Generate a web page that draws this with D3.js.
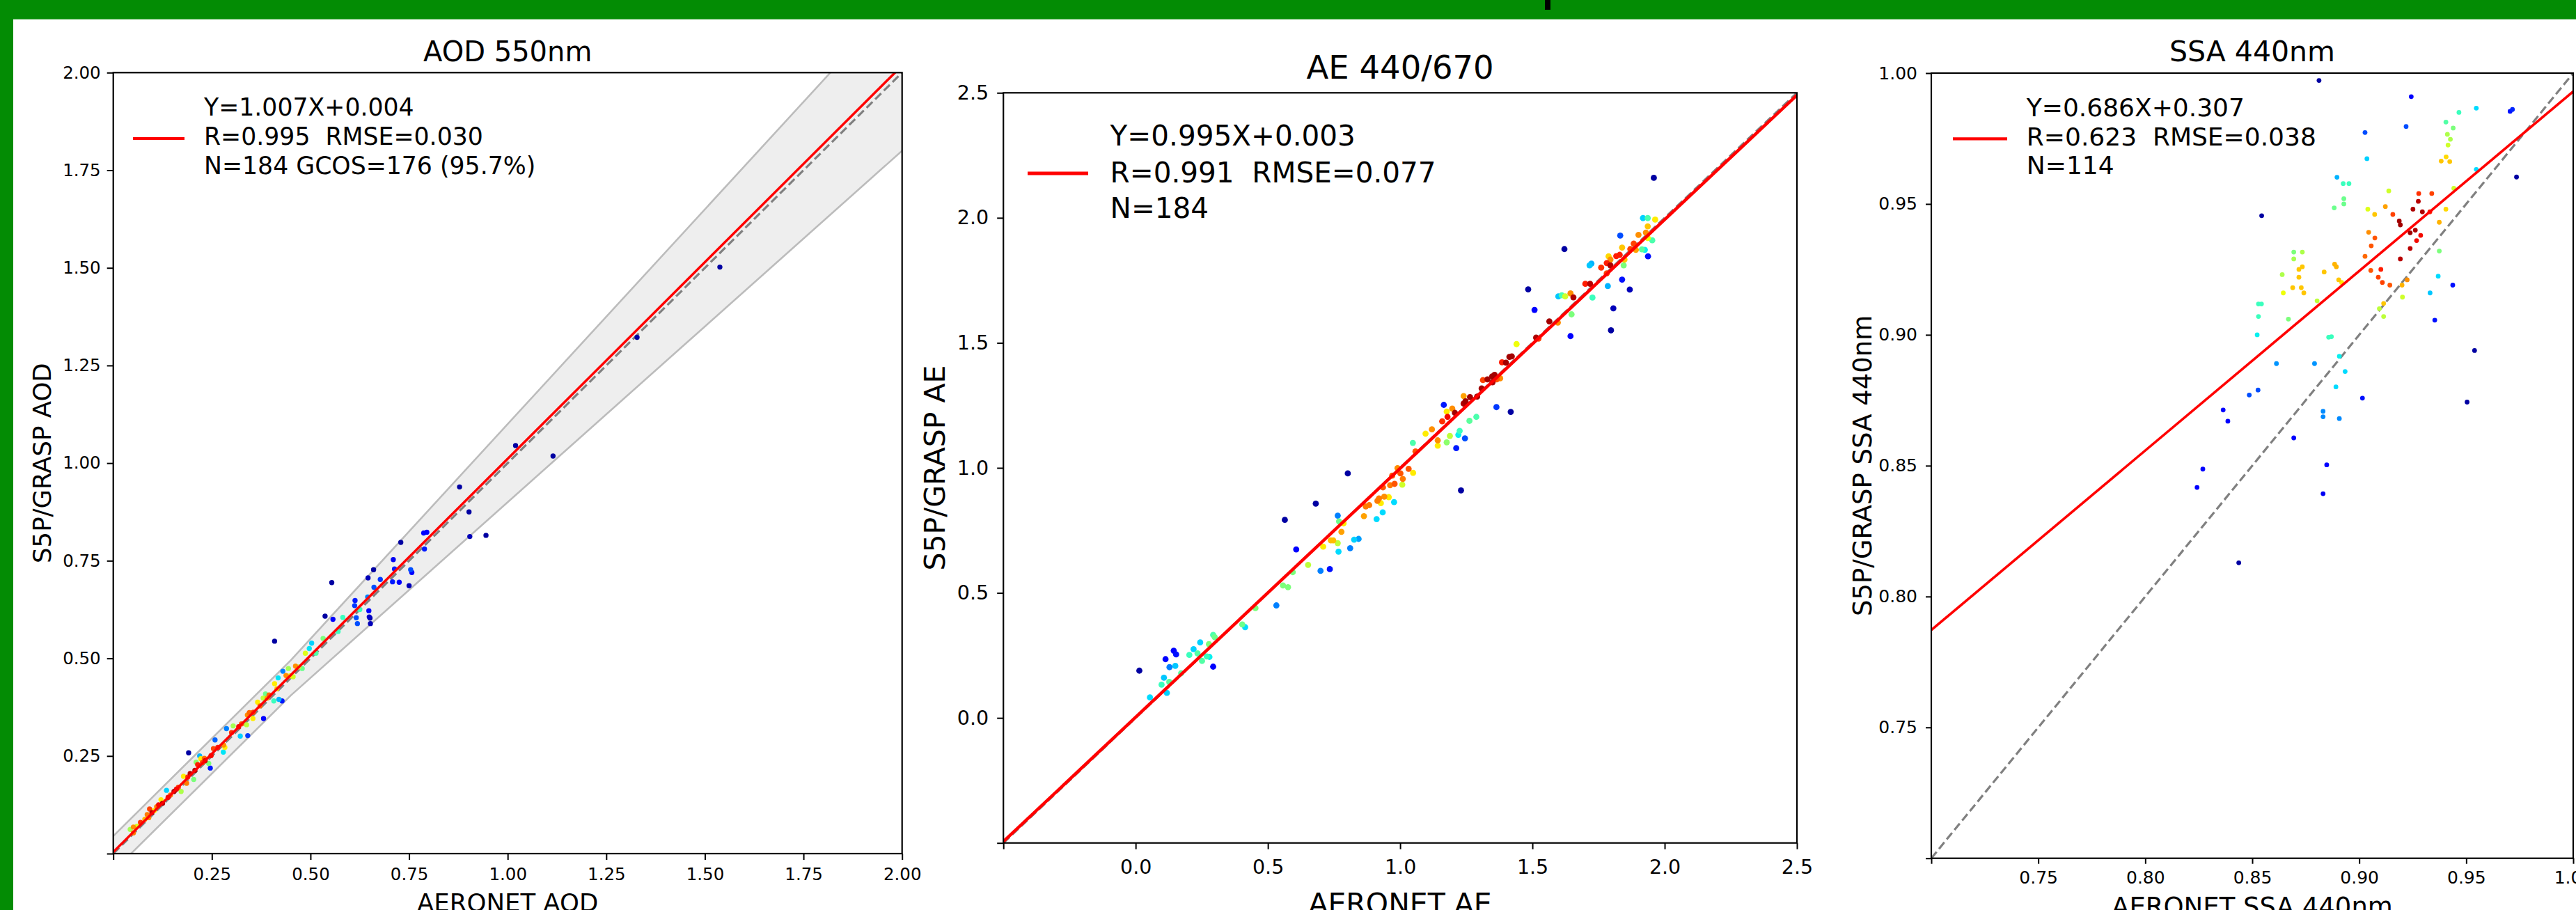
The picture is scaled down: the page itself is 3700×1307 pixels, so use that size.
<!DOCTYPE html>
<html><head><meta charset="utf-8">
<script src="https://cdn.jsdelivr.net/npm/d3@7"></script>
<style>body{margin:0;background:#fff;overflow:hidden}svg{display:block}text{font-family:"DejaVu Sans",sans-serif}</style>
</head><body>
<script>
// ---------------- DATA ----------------
const panelTitles = ["AOD 550nm", "AE 440/670", "SSA 440nm"];
const xLabels = ["AERONET AOD", "AERONET AE", "AERONET SSA 440nm"];
const yLabels = ["S5P/GRASP AOD", "S5P/GRASP AE", "S5P/GRASP SSA 440nm"];
const legendAOD = ["Y=1.007X+0.004", "R=0.995  RMSE=0.030", "N=184 GCOS=176 (95.7%)"];
const legendAE = ["Y=0.995X+0.003", "R=0.991  RMSE=0.077", "N=184"];
const legendSSA = ["Y=0.686X+0.307", "R=0.623  RMSE=0.038", "N=114"];
const fitAOD = [1.007, 0.004];
const fitAE = [0.995, 0.003];
const fitSSA = [0.686, 0.307];
const gcosEnvelope = [0.045, 0.10]; // absolute floor, relative fraction
const ticksAOD = [0, 0.25, 0.5, 0.75, 1.0, 1.25, 1.5, 1.75, 2.0];
const tickLabelsAOD = ["", "0.25", "0.50", "0.75", "1.00", "1.25", "1.50", "1.75", "2.00"];
const ticksAE = [-0.5, 0, 0.5, 1.0, 1.5, 2.0, 2.5];
const tickLabelsAE = ["", "0.0", "0.5", "1.0", "1.5", "2.0", "2.5"];
const ticksSSA = [0.7, 0.75, 0.8, 0.85, 0.9, 0.95, 1.0];
const tickLabelsSSA = ["", "0.75", "0.80", "0.85", "0.90", "0.95", "1.00"];

// points: [AERONET, S5P/GRASP, density (jet colour 0..1)]
const pointsAOD = [
[0.409,0.544,0.03],[0.191,0.258,0.03],[0.537,0.608,0.03],[0.557,0.600,0.12],[0.613,0.648,0.15],
[0.648,0.622,0.12],[0.651,0.603,0.03],[0.616,0.604,0.2],[0.582,0.605,0.42],[0.570,0.569,0.42],
[0.503,0.539,0.33],[0.497,0.525,0.35],[0.532,0.551,0.5],[0.514,0.513,0.45],[0.487,0.513,0.62],
[0.479,0.474,0.48],[0.462,0.480,0.76],[0.444,0.474,0.55],[0.456,0.453,0.6],[0.430,0.467,0.25],
[0.418,0.450,0.35],[0.409,0.435,0.66],[0.438,0.456,0.76],[0.386,0.409,0.48],[0.395,0.406,0.8],
[0.407,0.391,0.42],[0.366,0.388,0.66],[0.380,0.398,0.58],[0.428,0.391,0.15],[0.420,0.395,0.3],
[0.381,0.346,0.12],[0.354,0.346,0.66],[0.345,0.361,0.8],[0.340,0.355,0.76],[0.325,0.332,0.82],
[0.304,0.327,0.55],[0.338,0.330,0.58],[0.322,0.301,0.33],[0.341,0.302,0.18],[0.287,0.320,0.25],
[0.258,0.291,0.22],[0.254,0.269,0.84],[0.280,0.278,0.76],[0.279,0.260,0.35],[0.283,0.272,0.66],
[0.248,0.251,0.9],[0.231,0.244,0.8],[0.219,0.250,0.3],[0.222,0.243,0.66],[0.210,0.234,0.52],
[0.214,0.228,0.88],[0.242,0.231,0.5],[0.246,0.219,0.15],[0.226,0.233,0.84],[0.207,0.213,0.96],
[0.204,0.190,0.5],[0.189,0.196,0.86],[0.186,0.180,0.78],[0.178,0.198,0.66],[0.172,0.159,0.56],
[0.154,0.159,0.96],[0.160,0.165,0.9],[0.135,0.162,0.33],[0.139,0.144,0.9],[0.121,0.138,0.66],
[0.125,0.129,0.96],[0.110,0.120,0.78],[0.104,0.110,0.66],[0.092,0.114,0.84],[0.086,0.100,0.78],
[0.090,0.092,0.76],[0.069,0.080,0.86],[0.051,0.068,0.76],[0.043,0.062,0.55],[0.051,0.053,0.78],
[0.098,0.105,0.95],[0.080,0.088,0.72],[0.060,0.070,0.62],[0.145,0.150,0.8],[0.115,0.125,0.9],
[0.165,0.170,0.84],[0.195,0.205,0.95],[0.233,0.238,0.92],[0.265,0.272,0.88],[0.300,0.310,0.86],
[0.318,0.325,0.9],[0.355,0.362,0.84],[0.372,0.378,0.8],[0.390,0.398,0.74],[0.415,0.422,0.7],
[0.448,0.455,0.66],[0.470,0.478,0.6],
[1.538,1.502,0.03],[1.328,1.322,0.03],[1.020,1.045,0.03],[1.115,1.018,0.03],[0.878,0.939,0.03],
[0.902,0.875,0.03],[0.945,0.815,0.03],[0.904,0.812,0.05],[0.787,0.821,0.12],[0.795,0.823,0.12],
[0.789,0.780,0.15],[0.729,0.797,0.03],[0.710,0.753,0.1],[0.713,0.729,0.15],[0.660,0.727,0.03],
[0.646,0.706,0.05],[0.677,0.702,0.18],[0.661,0.682,0.2],[0.645,0.657,0.25],[0.708,0.696,0.15],
[0.725,0.695,0.12],[0.750,0.686,0.05],[0.754,0.727,0.2],[0.757,0.720,0.12],[0.554,0.694,0.03],
[0.612,0.635,0.18],[0.619,0.589,0.2],[0.649,0.606,0.06],[0.652,0.589,0.05],[0.625,0.625,0.42]
];
const pointsAE = [
[0.014,0.189,0.03],[0.113,0.235,0.12],[0.144,0.269,0.12],[0.153,0.254,0.14],[0.128,0.203,0.25],
[0.150,0.208,0.32],[0.107,0.161,0.32],[0.098,0.133,0.42],[0.118,0.100,0.33],[0.054,0.082,0.34],
[0.127,0.144,0.46],[0.172,0.179,0.46],[0.203,0.252,0.42],[0.219,0.275,0.33],[0.244,0.302,0.33],
[0.234,0.258,0.45],[0.251,0.228,0.45],[0.269,0.246,0.42],[0.279,0.244,0.36],[0.293,0.205,0.12],
[0.293,0.332,0.44],[0.299,0.323,0.48],[0.277,0.295,0.5],[0.403,0.374,0.48],[0.414,0.363,0.34],
[0.453,0.439,0.5],[0.532,0.450,0.25],[0.557,0.530,0.5],[0.576,0.523,0.5],[0.594,0.583,0.5],
[0.652,0.612,0.58],[0.699,0.588,0.25],[0.734,0.595,0.14],[0.607,0.674,0.12],[0.564,0.792,0.03],
[0.681,0.857,0.03],[0.802,0.978,0.03],[0.709,0.685,0.66],[0.738,0.710,0.71],[0.747,0.710,0.71],
[0.764,0.699,0.58],[0.767,0.665,0.34],[0.778,0.744,0.74],[0.764,0.809,0.25],[0.769,0.786,0.48],
[0.786,0.778,0.66],[0.811,0.679,0.25],[0.826,0.713,0.33],[0.843,0.716,0.28],[0.863,0.807,0.74],
[0.870,0.846,0.78],[0.883,0.851,0.78],[0.911,0.795,0.34],[0.934,0.822,0.34],[0.914,0.868,0.78],
[0.920,0.878,0.78],[0.927,0.859,0.66],[0.940,0.885,0.76],[0.957,0.883,0.66],[0.977,0.863,0.34],
[0.962,0.931,0.78],[0.979,0.936,0.82],[1.008,0.933,0.6],[1.010,0.956,0.78],[1.001,0.978,0.82],
[0.990,0.999,0.76],[1.032,0.996,0.82],[1.049,0.980,0.66],[0.970,0.969,0.82],[0.935,0.922,0.82],
[1.048,1.100,0.44],[1.096,1.137,0.66],[1.120,1.154,0.76],[1.058,1.066,0.82],
[1.959,2.160,0.03],[1.918,1.999,0.33],[1.936,1.999,0.44],[1.964,1.993,0.66],[1.936,1.966,0.7],
[1.929,1.941,0.76],[1.901,1.932,0.76],[1.832,1.929,0.2],[1.953,1.910,0.44],[1.936,1.919,0.64],
[1.883,1.897,0.84],[1.839,1.881,0.7],[1.870,1.875,0.84],[1.914,1.874,0.46],[1.925,1.872,0.36],
[1.891,1.872,0.74],[1.937,1.846,0.14],[1.788,1.846,0.68],[1.817,1.847,0.88],[1.830,1.852,0.88],
[1.795,1.833,0.76],[1.781,1.819,0.88],[1.795,1.810,0.96],[1.848,1.833,0.7],[1.845,1.810,0.5],
[1.760,1.801,0.86],[1.781,1.778,0.84],[1.716,1.810,0.32],[1.723,1.817,0.3],[1.839,1.753,0.14],
[1.868,1.713,0.05],[1.785,1.727,0.3],[1.700,1.736,0.88],[1.718,1.736,0.95],[1.727,1.681,0.42],
[1.806,1.638,0.05],[1.797,1.550,0.03],[1.621,1.875,0.03],[1.484,1.714,0.03],[1.508,1.632,0.12],
[1.598,1.686,0.32],[1.611,1.690,0.44],[1.624,1.686,0.6],[1.644,1.698,0.76],[1.655,1.682,0.96],
[1.648,1.614,0.5],[1.644,1.527,0.12],[1.564,1.586,0.97],[1.596,1.581,0.76],[1.514,1.521,0.96],
[1.523,1.517,0.84],[1.440,1.495,0.64],[1.422,1.446,0.97],[1.413,1.444,0.97],[1.400,1.421,0.97],
[1.385,1.422,0.88],[1.357,1.372,0.97],[1.348,1.366,0.97],[1.330,1.354,0.97],[1.313,1.351,0.84],
[1.378,1.358,0.76],[1.365,1.354,0.82],[1.349,1.342,0.96],[1.308,1.318,0.97],[1.291,1.285,0.97],
[1.264,1.283,0.97],[1.247,1.266,0.97],[1.240,1.287,0.74],[1.240,1.257,0.96],[1.207,1.220,0.97],
[1.197,1.237,0.76],[1.176,1.225,0.66],[1.179,1.204,0.9],[1.159,1.186,0.86],[1.165,1.252,0.15],
[1.364,1.243,0.18],[1.418,1.224,0.03],[1.288,1.204,0.44],[1.262,1.188,0.46],[1.225,1.148,0.42],
[1.220,1.132,0.36],[1.245,1.118,0.2],[1.188,1.128,0.58],[1.176,1.102,0.52],[1.212,1.079,0.15],
[1.142,1.110,0.76],[1.142,1.089,0.66],[1.230,0.910,0.03]
];
const pointsSSA = [
[0.8812,0.9972,0.03],[0.9243,0.991,0.12],[0.9219,0.9796,0.2],[0.9027,0.9773,0.2],[0.9036,0.9673,0.33],
[0.9466,0.9850,0.42],[0.9547,0.9866,0.34],[0.9705,0.9854,0.14],[0.9716,0.9861,0.16],[0.9405,0.9813,0.45],
[0.9439,0.979,0.5],[0.9412,0.9766,0.56],[0.9426,0.9747,0.56],[0.9415,0.9725,0.6],[0.9406,0.968,0.68],
[0.9383,0.9664,0.7],[0.9423,0.9662,0.7],[0.9547,0.9632,0.34],[0.9735,0.9603,0.03],[0.8896,0.9602,0.3],
[0.8925,0.9578,0.42],[0.8952,0.9578,0.42],[0.8928,0.952,0.48],[0.8928,0.950,0.48],[0.8883,0.9485,0.48],
[0.8544,0.9455,0.03],[0.9138,0.955,0.6],[0.9442,0.956,0.6],[0.9040,0.948,0.62],[0.9072,0.946,0.7],
[0.9122,0.949,0.74],[0.9157,0.946,0.84],[0.9278,0.954,0.86],[0.9339,0.954,0.84],[0.9276,0.951,0.95],
[0.9251,0.948,0.96],[0.9295,0.947,0.96],[0.9330,0.947,0.88],[0.9405,0.948,0.68],[0.9187,0.9435,0.97],
[0.9192,0.942,0.97],[0.9238,0.939,0.97],[0.9262,0.940,0.96],[0.9287,0.938,0.9],[0.9268,0.936,0.9],
[0.9238,0.933,0.95],[0.9192,0.929,0.95],[0.9374,0.943,0.72],[0.9374,0.932,0.5],[0.9369,0.9224,0.34],
[0.9437,0.919,0.14],[0.9331,0.916,0.32],[0.9353,0.9056,0.14],[0.9539,0.894,0.03],[0.9504,0.8743,0.03],
[0.9044,0.9392,0.76],[0.9073,0.937,0.82],[0.9056,0.934,0.82],[0.9027,0.930,0.8],[0.9054,0.9246,0.82],
[0.9089,0.922,0.84],[0.9101,0.925,0.88],[0.9108,0.920,0.84],[0.9143,0.919,0.82],[0.9200,0.919,0.72],
[0.9224,0.921,0.76],[0.9202,0.9144,0.6],[0.9114,0.912,0.7],[0.9094,0.910,0.58],[0.9114,0.907,0.58],
[0.8885,0.927,0.72],[0.8893,0.926,0.72],[0.8904,0.921,0.7],[0.8918,0.920,0.66],[0.8836,0.924,0.7],
[0.8803,0.913,0.58],[0.8857,0.8991,0.42],[0.8870,0.8993,0.42],[0.8907,0.8918,0.36],[0.8934,0.886,0.34],
[0.8891,0.8801,0.34],[0.8791,0.889,0.27],[0.8831,0.8708,0.26],[0.8831,0.8687,0.26],[0.8907,0.868,0.26],
[0.9015,0.8758,0.14],[0.8848,0.8503,0.12],[0.8831,0.8393,0.1],[0.8694,0.8606,0.12],[0.8613,0.889,0.27],
[0.8527,0.8789,0.2],[0.8486,0.877,0.2],[0.8364,0.8713,0.12],[0.8386,0.867,0.12],[0.8269,0.8487,0.12],
[0.8242,0.8417,0.12],[0.8437,0.8129,0.03],[0.8694,0.9316,0.5],[0.8734,0.9316,0.56],[0.8694,0.929,0.55],
[0.8734,0.926,0.7],[0.8718,0.925,0.7],[0.8718,0.922,0.7],[0.8640,0.923,0.56],[0.8689,0.918,0.7],
[0.8729,0.918,0.7],[0.8741,0.916,0.7],[0.8645,0.916,0.64],[0.8529,0.9118,0.42],[0.8543,0.9118,0.42],
[0.8529,0.907,0.42],[0.8523,0.900,0.36],[0.8669,0.906,0.5]
];

// ---------------- COLOUR MAP (matplotlib jet) ----------------
const jr = d3.scaleLinear().domain([0,0.35,0.66,0.89,1]).range([0,0,1,1,0.5]).clamp(true);
const jg = d3.scaleLinear().domain([0,0.125,0.375,0.64,0.91,1]).range([0,0,1,1,0,0]).clamp(true);
const jb = d3.scaleLinear().domain([0,0.11,0.34,0.65,1]).range([0.5,1,1,0,0]).clamp(true);
const jet = v => d3.rgb(jr(v)*255, jg(v)*255, jb(v)*255).toString();

// ---------------- DRAW ----------------
const W = 3700, H = 1307;
const svg = d3.select("body").append("svg").attr("width", W).attr("height", H);
svg.append("rect").attr("width", W).attr("height", H).attr("fill", "#fff");

const panels = [
  {id:"aod", pts:pointsAOD, fit:fitAOD, legend:legendAOD, ticks:ticksAOD, tl:tickLabelsAOD,
   dom:[0,2], px:[162.7,1295.7], py:[1226,104.3], r:3.7, fitW:3.5,
   title:panelTitles[0], titleSize:40, titleY:88, xl:xLabels[0], yl:yLabels[0], labSize:35.5,
   xlY:1309, ylX:72.7, tickSize:24.5, tickLen:9, xPad:12, yPad:9,
   legSize:34.7, legX:293, legY:[165.7,208,250], legLine:[191,265,199], legW:4.2, band:true},
  {id:"ae", pts:pointsAE, fit:fitAE, legend:legendAE, ticks:ticksAE, tl:tickLabelsAE,
   dom:[-0.5,2.5], px:[1441.2,2581], py:[1210.7,133.3], r:4.4, fitW:4.5,
   title:panelTitles[1], titleSize:46.5, titleY:113, xl:xLabels[1], yl:yLabels[1], labSize:41,
   xlY:1312, ylX:1357, tickSize:28.5, tickLen:9, xPad:15, yPad:12,
   legSize:40.5, legX:1594.6, legY:[209,261.7,312.7], legLine:[1476,1563,249], legW:5, band:false},
  {id:"ssa", pts:pointsSSA, fit:fitSSA, legend:legendSSA, ticks:ticksSSA, tl:tickLabelsSSA,
   dom:[0.7,1.0], px:[2774,3696], py:[1232.7,105], r:3.4, fitW:3.6,
   title:panelTitles[2], titleSize:41, titleY:88, xl:xLabels[2], yl:yLabels[2], labSize:37,
   xlY:1315, ylX:2688, tickSize:25, tickLen:8, xPad:11, yPad:12,
   legSize:36, legX:2910.8, legY:[166.7,209,250], legLine:[2805,2883,199.3], legW:4.2, band:false}
];

panels.forEach(p => {
  const x = d3.scaleLinear().domain(p.dom).range(p.px);
  const y = d3.scaleLinear().domain(p.dom).range(p.py);
  const g = svg.append("g");
  const clipId = "clip-" + p.id;
  svg.append("clipPath").attr("id", clipId).append("rect")
    .attr("x", p.px[0]).attr("y", p.py[1]).attr("width", p.px[1]-p.px[0]).attr("height", p.py[0]-p.py[1]);
  const plot = g.append("g").attr("clip-path", `url(#${clipId})`);

  if (p.band) {
    const off = v => Math.max(gcosEnvelope[0], gcosEnvelope[1]*v);
    const xs = [0, gcosEnvelope[0]/gcosEnvelope[1], 2.4];
    const area = d3.area().x(d => x(d)).y0(d => y(d - off(d))).y1(d => y(d + off(d)));
    plot.append("path").datum(xs).attr("d", area).attr("fill", "#eeeeee");
    const up = d3.line().x(d => x(d)).y(d => y(d + off(d)));
    const lo = d3.line().x(d => x(d)).y(d => y(d - off(d)));
    plot.append("path").datum(xs).attr("d", up).attr("fill","none").attr("stroke","#bcbcbc").attr("stroke-width",2.6);
    plot.append("path").datum(xs).attr("d", lo).attr("fill","none").attr("stroke","#bcbcbc").attr("stroke-width",2.6);
  }
  // 1:1 line
  plot.append("line").attr("x1", x(p.dom[0])).attr("y1", y(p.dom[0])).attr("x2", x(p.dom[1])).attr("y2", y(p.dom[1]))
    .attr("stroke", "#808080").attr("stroke-width", 3.2).attr("stroke-dasharray", "12,5.5");
  // points
  const sorted = p.pts.slice().sort((a,b) => a[2]-b[2]);
  plot.selectAll("circle").data(sorted).join("circle")
    .attr("cx", d => x(d[0])).attr("cy", d => y(d[1])).attr("r", p.r).attr("fill", d => jet(d[2]));
  // fit line
  plot.append("line").attr("x1", x(p.dom[0])).attr("y1", y(p.fit[0]*p.dom[0]+p.fit[1]))
    .attr("x2", x(p.dom[1])).attr("y2", y(p.fit[0]*p.dom[1]+p.fit[1]))
    .attr("stroke", "#ff0000").attr("stroke-width", p.fitW);

  // axes
  const xa = g.append("g").attr("transform", `translate(0,${p.py[0]})`)
    .call(d3.axisBottom(x).tickValues(p.ticks).tickFormat((d,i) => p.tl[i]).tickSize(p.tickLen).tickPadding(p.xPad));
  const ya = g.append("g").attr("transform", `translate(${p.px[0]},0)`)
    .call(d3.axisLeft(y).tickValues(p.ticks).tickFormat((d,i) => p.tl[i]).tickSize(p.tickLen).tickPadding(p.yPad));
  [xa, ya].forEach(a => {
    a.select(".domain").remove();
    a.attr("font-family", "DejaVu Sans").attr("font-size", p.tickSize);
    a.selectAll("line").attr("stroke", "#000").attr("stroke-width", 2);
    a.selectAll("text").attr("fill", "#000");
  });
  // spines
  g.append("rect").attr("x", p.px[0]).attr("y", p.py[1]).attr("width", p.px[1]-p.px[0]).attr("height", p.py[0]-p.py[1])
    .attr("fill", "none").attr("stroke", "#000").attr("stroke-width", 2.2);

  // titles and labels
  const cx = (p.px[0]+p.px[1])/2, cy = (p.py[0]+p.py[1])/2;
  g.append("text").attr("x", cx).attr("y", p.titleY).attr("text-anchor","middle").attr("font-size", p.titleSize).text(p.title);
  g.append("text").attr("x", cx).attr("y", p.xlY).attr("text-anchor","middle").attr("font-size", p.labSize).text(p.xl);
  g.append("text").attr("transform", `translate(${p.ylX},${cy}) rotate(-90)`).attr("text-anchor","middle")
    .attr("font-size", p.labSize).text(p.yl);

  // legend
  g.append("line").attr("x1", p.legLine[0]).attr("x2", p.legLine[1]).attr("y1", p.legLine[2]).attr("y2", p.legLine[2])
    .attr("stroke", "#ff0000").attr("stroke-width", p.legW);
  p.legend.forEach((t,i) => {
    g.append("text").attr("x", p.legX).attr("y", p.legY[i]).attr("font-size", p.legSize).attr("xml:space","preserve")
      .style("white-space","pre").text(t);
  });
});

// green frame (slide background)
svg.append("rect").attr("x",0).attr("y",0).attr("width",W).attr("height",27.7).attr("fill","#038c04");
svg.append("rect").attr("x",0).attr("y",0).attr("width",19).attr("height",H).attr("fill","#038c04");
svg.append("rect").attr("x",2219).attr("y",0).attr("width",8).attr("height",14).attr("fill","#000");
</script>
</body></html>
